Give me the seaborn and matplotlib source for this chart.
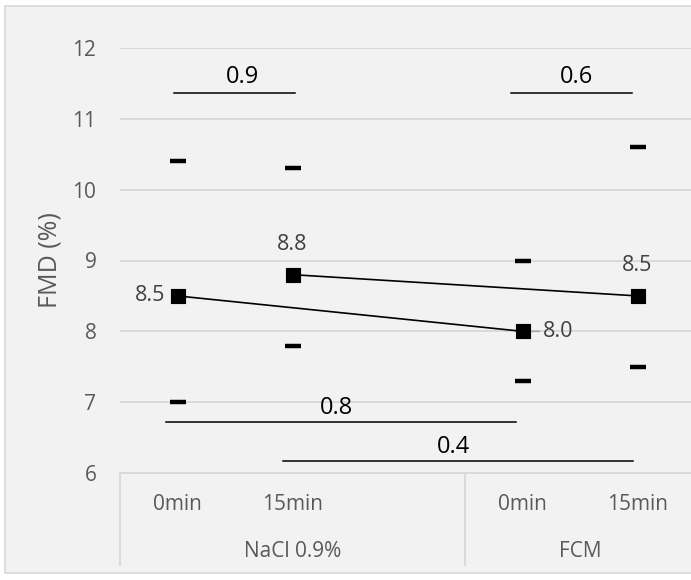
import matplotlib
matplotlib.use("Agg")
import matplotlib.pyplot as plt
import matplotlib.transforms as mtransforms
from matplotlib.patches import Rectangle
import seaborn as sns
import pandas as pd

# ---- data ----
groups = ["NaCl 0.9%", "NaCl 0.9%", "FCM", "FCM"]
times = ["0min", "15min", "0min", "15min"]
means = [8.5, 8.8, 8.0, 8.5]
upper = [10.4, 10.3, 9.0, 10.6]
lower = [7.0, 7.8, 7.3, 7.5]
mean_labels = ["8.5", "8.8", "8.0", "8.5"]
group_names = ["NaCl 0.9%", "FCM"]
# comparisons (index a, index b, p-value)
comp_a = [0, 2, 0, 1]
comp_b = [1, 3, 2, 3]
comp_p = ["0.9", "0.6", "0.8", "0.4"]
# connections between groups (same time point)
link_a = [0, 1]
link_b = [2, 3]
yticks = [6, 7, 8, 9, 10, 11, 12]

# category slots: NaCl 0min, NaCl 15min, (blank), FCM 0min, FCM 15min
slots = [0, 1, 3, 4]

df = pd.DataFrame({"x": slots, "mean": means, "upper": upper, "lower": lower,
                   "group": groups, "time": times})

W, H = 691, 580
fig = plt.figure(figsize=(W / 100, H / 100), dpi=100)
fig.patch.set_facecolor("white")
fig.patches.append(Rectangle((5 / W, 1 - 573 / H), 700 / W, 567 / H,
                             transform=fig.transFigure, facecolor="#f2f2f2",
                             edgecolor="#d9d9d9", lw=1.2, zorder=-10))

ax = fig.add_axes([120 / W, (H - 473) / H, 575 / W, 425 / H])
ax.set_facecolor("none")
ax.set_zorder(1)

FONT = "Open Sans"
GRAY = "#595959"

# links
for a, b in zip(link_a, link_b):
    seg = df.iloc[[a, b]]
    sns.lineplot(data=seg, x="x", y="mean", color="black", lw=1.2, ax=ax,
                 legend=False, zorder=3, sort=False)

# error dashes
sns.scatterplot(data=df, x="x", y="upper", marker="_", s=130, linewidth=3.2,
                color="black", ax=ax, zorder=4, legend=False)
sns.scatterplot(data=df, x="x", y="lower", marker="_", s=130, linewidth=3.2,
                color="black", ax=ax, zorder=4, legend=False)
# means
sns.scatterplot(data=df, x="x", y="mean", marker="s", s=105, color="black",
                edgecolor="black", ax=ax, zorder=5, legend=False)

# data labels
lab_off = [(-27, 0, "center", "center"), (0, 30, "center", "center"),
           (20, 0, "left", "center"), (0, 30, "center", "center")]
for i, (dx, dy, ha, va) in enumerate(lab_off):
    ax.annotate(mean_labels[i], (df.x[i], df["mean"][i]), xytext=(dx, dy),
                textcoords="offset pixels", ha=ha, va=va, fontsize=15.5,
                color="#404040", family=FONT, zorder=6)
# leader line for the 8.0 label
ax.annotate("", (df.x[2], df["mean"][2]), xytext=(17, 0), textcoords="offset pixels",
            arrowprops=dict(arrowstyle="-", color="#a6a6a6", lw=1.2,
                            shrinkA=0, shrinkB=6), zorder=4)

# comparison brackets (layout)
br_y = [11.36, 11.36, 6.72, 6.17]
br_pad = [(-0.03, 0.02), (-0.1, -0.05), (-0.1, -0.06), (-0.08, -0.04)]
br_tx = [0.565, 3.47, 1.38, 2.40]
br_ty = [0.23, 0.23, 0.195, 0.195]
for a, b, p, yy, (pl, pr), tx, ty in zip(comp_a, comp_b, comp_p, br_y, br_pad,
                                         br_tx, br_ty):
    x0 = slots[a] + pl
    x1 = slots[b] + pr
    ax.plot([x0, x1], [yy, yy], color="black", lw=1.1, zorder=3)
    ax.text(tx, yy + ty, p, ha="center", va="center",
            fontsize=17, color="black", family=FONT, zorder=6)

# axes styling
ax.set_xlim(-0.5, 4.5)
ax.set_ylim(6, 12)
ax.set_yticks(yticks)
ax.set_yticklabels([str(t) for t in yticks], fontsize=15, color=GRAY, family=FONT)
ax.tick_params(axis="y", length=0, pad=17)
ax.set_xticks([])
ax.set_xlabel("")
ax.set_ylabel("FMD (%)", fontsize=18, color=GRAY, family=FONT, labelpad=7)
ax.grid(axis="y", color="#d9d9d9", lw=1.4, zorder=0)
ax.set_axisbelow(True)
for s in ["top", "right", "left"]:
    ax.spines[s].set_visible(False)
ax.spines["bottom"].set_color("#d9d9d9")
ax.spines["bottom"].set_linewidth(1.4)

# multi-level category axis
trans = mtransforms.blended_transform_factory(ax.transData, ax.transAxes)
for x, t in zip(slots, times):
    ax.text(x, -0.074, t, transform=trans, ha="center", va="center",
            fontsize=15, color=GRAY, family=FONT)
group_spans = [(-0.5, 2.5), (2.5, 4.5)]
for (g0, g1), g in zip(group_spans, group_names):
    ax.text((g0 + g1) / 2, -0.185, g, transform=trans, ha="center", va="center",
            fontsize=15, color=GRAY, family=FONT)
for xb in [-0.5, 2.5, 4.5]:
    ax.plot([xb, xb], [0, -0.216], transform=trans, color="#d9d9d9", lw=1.4,
            clip_on=False)

fig.savefig("out.png", dpi=100)
